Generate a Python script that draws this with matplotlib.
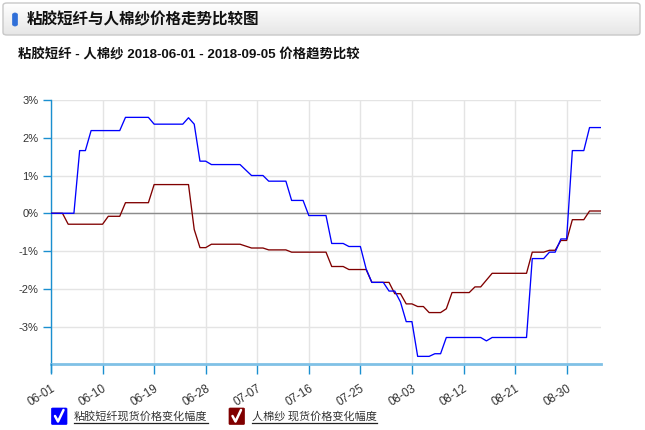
import matplotlib
matplotlib.use("Agg")
import matplotlib.pyplot as plt
from matplotlib.patches import FancyBboxPatch
from matplotlib.lines import Line2D
from matplotlib.transforms import ScaledTranslation
import pandas as pd
import numpy as np

plt.rcParams['font.family'] = ['Liberation Sans', 'Noto Sans CJK SC', 'DejaVu Sans']

# ---- data ----
title = "粘胶短纤与人棉纱价格走势比较图"
subtitle = "粘胶短纤 - 人棉纱 2018-06-01 - 2018-09-05 价格趋势比较"
series_names = ["粘胶短纤现货价格变化幅度", "人棉纱 现货价格变化幅度"]

viscose_dates = ["06-01", "06-05", "06-06", "06-07", "06-08", "06-13", "06-14", "06-18",
                 "06-19", "06-24", "06-25", "06-26", "06-27", "06-28", "06-29", "07-04",
                 "07-06", "07-08", "07-09", "07-12", "07-13", "07-15", "07-16", "07-19",
                 "07-20", "07-22", "07-23", "07-25", "07-26", "07-27", "07-29", "07-30",
                 "07-31", "08-01", "08-02", "08-03", "08-04", "08-06", "08-07", "08-08",
                 "08-09", "08-15", "08-16", "08-17", "08-23", "08-24", "08-26", "08-27",
                 "08-28", "08-29", "08-30", "08-31", "09-02", "09-03", "09-05"]
viscose_values = [0.00, 0.00, 1.66, 1.66, 2.19, 2.19, 2.54, 2.54,
                  2.36, 2.36, 2.53, 2.36, 1.38, 1.38, 1.29, 1.29,
                  1.00, 1.00, 0.85, 0.85, 0.34, 0.34, -0.06, -0.06,
                  -0.80, -0.80, -0.88, -0.88, -1.47, -1.83, -1.83, -2.06,
                  -2.06, -2.35, -2.87, -2.87, -3.79, -3.79, -3.72, -3.72,
                  -3.29, -3.29, -3.38, -3.29, -3.29, -1.20, -1.20, -1.03,
                  -1.03, -0.68, -0.68, 1.66, 1.66, 2.27, 2.27]

yarn_dates = ["06-01", "06-03", "06-04", "06-10", "06-11", "06-13", "06-14", "06-18",
              "06-19", "06-25", "06-26", "06-27", "06-28", "06-29", "07-04", "07-06",
              "07-08", "07-09", "07-12", "07-13", "07-19", "07-20", "07-22", "07-23",
              "07-26", "07-27", "07-30", "07-31", "08-01", "08-02", "08-03", "08-04",
              "08-05", "08-06", "08-08", "08-09", "08-10", "08-13", "08-14", "08-15",
              "08-17", "08-23", "08-24", "08-26", "08-27", "08-28", "08-29", "08-30",
              "08-31", "09-02", "09-03", "09-05"]
yarn_values = [0.00, 0.00, -0.29, -0.29, -0.08, -0.08, 0.28, 0.28,
               0.76, 0.76, -0.43, -0.91, -0.91, -0.82, -0.82, -0.92,
               -0.92, -0.97, -0.97, -1.03, -1.03, -1.41, -1.41, -1.49,
               -1.49, -1.83, -1.83, -2.13, -2.13, -2.40, -2.40, -2.47,
               -2.47, -2.63, -2.63, -2.53, -2.10, -2.10, -1.95, -1.95,
               -1.59, -1.59, -1.03, -1.03, -0.98, -0.98, -0.72, -0.72,
               -0.17, -0.17, 0.06, 0.06]

x_tick_labels = ["06-01", "06-10", "06-19", "06-28", "07-07", "07-16",
                 "07-25", "08-03", "08-12", "08-21", "08-30"]
y_ticks = [3, 2, 1, 0, -1, -2, -3]

def to_dates(lst):
    return pd.to_datetime(["2018-" + d for d in lst])

W, H = 645, 430
fig = plt.figure(figsize=(W / 100, H / 100), dpi=100)
fig.patch.set_facecolor("white")

def fx(px):
    return px / W

def fy(py):
    return 1 - py / H

CJK = ["Noto Sans CJK SC", "DejaVu Sans"]

# ---- header bar ----
grad_ax = fig.add_axes([fx(3), fy(35), fx(637), 32 / H])
grad = np.linspace(1.0, 0.0, 64).reshape(-1, 1)
grad_ax.imshow(grad, aspect="auto", cmap=matplotlib.colors.LinearSegmentedColormap.from_list(
    "g", ["#e6e6e6", "#ffffff"]), extent=[0, 1, 0, 1])
grad_ax.set_axis_off()
fig.patches.append(FancyBboxPatch((fx(3), fy(35)), fx(637), 32 / H,
                                  boxstyle="round,pad=0,rounding_size=0.006",
                                  transform=fig.transFigure, facecolor="none",
                                  edgecolor="#c8c8c8", linewidth=1))
fig.patches.append(FancyBboxPatch((fx(12.5), fy(26)), fx(5), 13 / H,
                                  boxstyle="round,pad=0,rounding_size=0.004",
                                  transform=fig.transFigure, facecolor="#2f6fd8",
                                  edgecolor="#2f6fd8", linewidth=0.5))
fig.text(fx(27), fy(19), title, fontsize=11.2, fontweight="bold", color="#111111",
         family=CJK, va="center", ha="left")
fig.text(fx(18), fy(55), subtitle, fontsize=9.6, fontweight="bold", color="#111111",
         family=["Liberation Sans", "Noto Sans CJK SC"], va="center", ha="left")

# ---- main axes ----
ax = fig.add_axes([fx(51), fy(364.3), fx(550), (364.3 - 100) / H])
d0 = pd.Timestamp("2018-06-01")
d1 = pd.Timestamp("2018-09-05")
ax.set_xlim(d0, d1)
ax.set_ylim(-4.0, 3.0)

ax.plot(to_dates(viscose_dates), viscose_values, color="#0000ff", lw=0.95, zorder=4)
ax.plot(to_dates(yarn_dates), yarn_values, color="#800000", lw=0.95, zorder=3)

xt = to_dates(x_tick_labels)
ax.set_xticks(xt)
ax.set_xticklabels(x_tick_labels, rotation=32, ha="right", va="top",
                   rotation_mode="anchor", fontsize=8.4, color="#333333")
off = ScaledTranslation(-6 / 100, -2 / 100, fig.dpi_scale_trans)
for lab in ax.get_xticklabels():
    lab.set_transform(lab.get_transform() + off)
ax.set_yticks(y_ticks)
ax.set_yticklabels([f"{v}%" for v in y_ticks], fontsize=8, color="#333333")

ax.grid(True, color="#e4e4e4", lw=1)
ax.set_axisbelow(True)
ax.axhline(0, color="#8c8c8c", lw=1, zorder=2)

for s in ["top", "right"]:
    ax.spines[s].set_visible(False)
ax.spines["left"].set_color("#1a8fd0")
ax.spines["left"].set_linewidth(1)
ax.spines["bottom"].set_color("#80c1e6")
ax.spines["bottom"].set_linewidth(2)
ax.tick_params(axis="y", colors="#1a8fd0", length=6, width=1, labelcolor="#333333", pad=3)
ax.tick_params(axis="x", colors="#1a8fd0", length=7, width=1, labelcolor="#333333", pad=6)

# y axis line extends slightly below x axis
fig.add_artist(Line2D([fx(51), fx(51)], [fy(364), fy(372)], color="#1a8fd0", lw=1,
                      transform=fig.transFigure))

# ---- legend ----
legend_items = [(51.5, 74, "#0000ff", series_names[0]),
                (229, 252, "#800000", series_names[1])]
legend_texts = []
for bx, tx, col, name in legend_items:
    fig.patches.append(FancyBboxPatch((fx(bx), fy(424.5)), fx(15.5), 16.5 / H,
                                      boxstyle="round,pad=0,rounding_size=0.002",
                                      transform=fig.transFigure, facecolor=col,
                                      edgecolor=col, linewidth=0.5))
    fig.add_artist(Line2D([fx(bx + 3.5), fx(bx + 6.5), fx(bx + 12)],
                          [fy(416), fy(421.5), fy(410)], color="white", lw=1.8,
                          transform=fig.transFigure, solid_capstyle="round"))
    legend_texts.append(fig.text(fx(tx), fy(416.5), name, fontsize=8, color="#333333",
                                 family=CJK, va="center", ha="left"))

fig.canvas.draw()
r = fig.canvas.get_renderer()
for txt in legend_texts:
    bb = txt.get_window_extent(renderer=r)
    fig.add_artist(Line2D([bb.x0 / W, bb.x1 / W], [fy(423), fy(423)], color="#222222",
                          lw=0.9, transform=fig.transFigure))

fig.savefig("out.png", dpi=100)
